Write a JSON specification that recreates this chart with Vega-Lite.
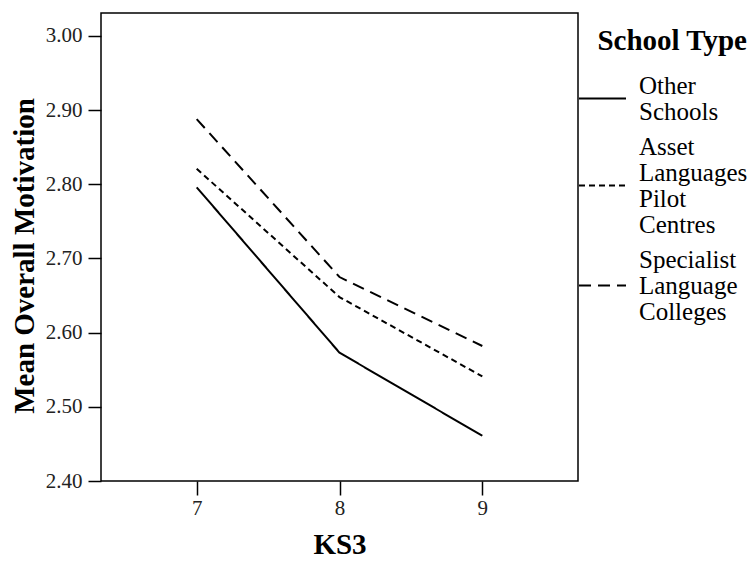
{
  "$schema": "https://vega.github.io/schema/vega-lite/v6.json",
  "autosize": "none",
  "padding": {"left": 101, "top": 13, "right": 172, "bottom": 82},
  "width": 477,
  "height": 468,
  "background": "white",
  "config": {
    "font": "Liberation Serif",
    "view": {"stroke": "black", "strokeWidth": 1.5}
  },
  "data": {
    "values": [
      {"school": "Other Schools", "ks3": 7, "mean": 2.796},
      {"school": "Other Schools", "ks3": 8, "mean": 2.573},
      {"school": "Other Schools", "ks3": 9, "mean": 2.461},
      {"school": "Asset Languages Pilot Centres", "ks3": 7, "mean": 2.821},
      {"school": "Asset Languages Pilot Centres", "ks3": 8, "mean": 2.648},
      {"school": "Asset Languages Pilot Centres", "ks3": 9, "mean": 2.541},
      {"school": "Specialist Language Colleges", "ks3": 7, "mean": 2.888},
      {"school": "Specialist Language Colleges", "ks3": 8, "mean": 2.675},
      {"school": "Specialist Language Colleges", "ks3": 9, "mean": 2.582}
    ]
  },
  "mark": {"type": "line", "color": "black", "strokeWidth": 2},
  "encoding": {
    "x": {
      "field": "ks3",
      "type": "quantitative",
      "scale": {"domain": [6.33, 9.67], "nice": false, "zero": false},
      "axis": {
        "title": "KS3",
        "values": [7, 8, 9],
        "grid": false,
        "domain": false,
        "tickColor": "black",
        "tickWidth": 1.5,
        "tickSize": 14,
        "labelFont": "Liberation Serif",
        "labelFontSize": 21,
        "labelColor": "#222",
        "labelPadding": 2,
        "titleFont": "Liberation Serif",
        "titleFontSize": 29,
        "titleFontWeight": "bold",
        "titleColor": "black",
        "titlePadding": 12
      }
    },
    "y": {
      "field": "mean",
      "type": "quantitative",
      "scale": {"domain": [2.4, 3.031], "nice": false, "zero": false},
      "axis": {
        "title": "Mean Overall Motivation",
        "values": [2.4, 2.5, 2.6, 2.7, 2.8, 2.9, 3.0],
        "format": ".2f",
        "grid": false,
        "domain": false,
        "tickColor": "black",
        "tickWidth": 1.5,
        "tickSize": 13,
        "labelFont": "Liberation Serif",
        "labelFontSize": 21,
        "labelColor": "#222",
        "labelPadding": 6,
        "titleFont": "Liberation Serif",
        "titleFontSize": 29,
        "titleFontWeight": "bold",
        "titleColor": "black",
        "titleBaseline": "alphabetic",
        "titleX": -68,
        "titleY": 242.5
      }
    },
    "strokeDash": {
      "field": "school",
      "type": "nominal",
      "scale": {
        "domain": ["Other Schools", "Asset Languages Pilot Centres", "Specialist Language Colleges"],
        "range": [[1, 0], [6, 4], [12, 7]]
      },
      "legend": {
        "title": "School Type",
        "orient": "right",
        "offset": -14,
        "padding": 14,
        "titleFont": "Liberation Serif",
        "titleFontSize": 29,
        "titleFontWeight": "bold",
        "titleColor": "black",
        "titleAnchor": "end",
        "titlePadding": 18,
        "symbolType": "stroke",
        "symbolSize": 2209,
        "symbolStrokeWidth": 2,
        "symbolStrokeColor": "black",
        "labelFont": "Liberation Serif",
        "labelFontSize": 25,
        "labelColor": "black",
        "labelOffset": 12,
        "labelLimit": 300,
        "labelExpr": "split(datum.label, ' ')",
        "rowPadding": 9,
        "encoding": {
          "labels": {
            "lineHeight": {"value": 26},
            "dy": {"value": {"expr": "-(length(split(datum.label, ' ')) - 1) * 13"}}
          }
        }
      }
    }
  }
}
